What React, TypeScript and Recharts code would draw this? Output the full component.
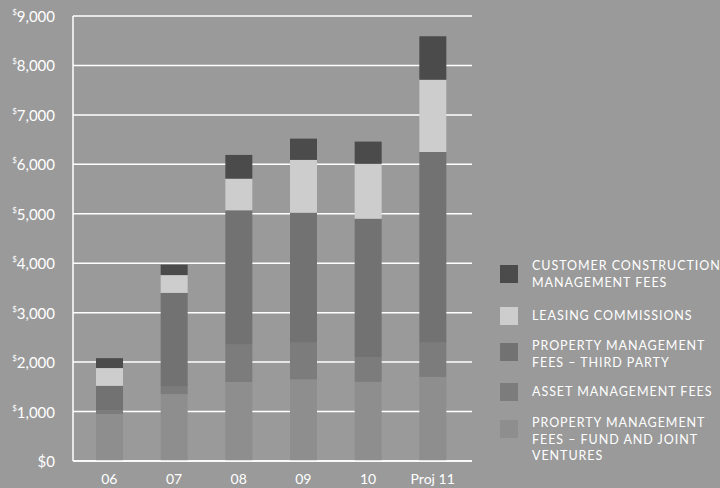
import React from "react";
import { BarChart, Bar, XAxis, YAxis, CartesianGrid } from "recharts";

const years = ["06", "07", "08", "09", "10", "Proj 11"];
// values in $ thousands, stacked bottom to top
const fundJv = [950, 1350, 1600, 1650, 1600, 1700];
const assetMgmt = [80, 150, 750, 740, 500, 690];
const thirdParty = [490, 1900, 2720, 2630, 2800, 3860];
const leasing = [360, 360, 640, 1070, 1110, 1460];
const construction = [200, 210, 480, 430, 450, 880];
const yTicks = [0, 1000, 2000, 3000, 4000, 5000, 6000, 7000, 8000, 9000];

const SERIES = [
  { key: "fundJv", label: ["PROPERTY MANAGEMENT", "FEES – FUND AND JOINT", "VENTURES"], color: "#8e8e8e" },
  { key: "assetMgmt", label: ["ASSET MANAGEMENT FEES"], color: "#7c7c7c" },
  { key: "thirdParty", label: ["PROPERTY MANAGEMENT", "FEES – THIRD PARTY"], color: "#727272" },
  { key: "leasing", label: ["LEASING COMMISSIONS"], color: "#cdcdcd" },
  { key: "construction", label: ["CUSTOMER CONSTRUCTION", "MANAGEMENT FEES"], color: "#4b4b4b" },
];

const data = years.map((year, i) => ({
  year,
  fundJv: fundJv[i],
  assetMgmt: assetMgmt[i],
  thirdParty: thirdParty[i],
  leasing: leasing[i],
  construction: construction[i],
}));

const FONT = "Lato, 'Noto Sans', sans-serif";
const BG = "#9a9a9a";

const YTick = ({ x, y, payload }: any) => (
  <text x={x} y={y} textAnchor="end" fill="#fff" fontFamily={FONT} fontSize={15} dominantBaseline="central">
    {payload.value > 0 && (
      <tspan fontSize={8} dy={-4}>$</tspan>
    )}
    <tspan dy={payload.value > 0 ? 4 : 0}>
      {payload.value > 0 ? payload.value.toLocaleString("en-US") : "$0"}
    </tspan>
  </text>
);

const LegendBox = () => {
  const rows = [...SERIES].reverse();
  const tops = [265, 307, 343, 383, 420];
  return (
    <div style={{ position: "absolute", left: 500, top: 0, width: 220, height: 488 }}>
      {rows.map((s, i) => (
        <div key={s.key} style={{ position: "absolute", top: tops[i], left: 0, display: "flex" }}>
          <div style={{ width: 18, height: 18, background: s.color, flexShrink: 0 }} />
          <div
            style={{
              marginLeft: 14,
              marginTop: s.label.length > 1 ? (i === 0 ? -7 : -5) : 1,
              color: "#fff",
              fontFamily: FONT,
              fontSize: 12.5,
              letterSpacing: 0.95,
              lineHeight: "16.5px",
              whiteSpace: "nowrap",
            }}
          >
            {s.label.map((l) => (
              <div key={l}>{l}</div>
            ))}
          </div>
        </div>
      ))}
    </div>
  );
};

export default function App() {
  return (
    <div style={{ position: "absolute", left: 0, top: 0, width: 720, height: 488, background: BG, overflow: "hidden" }}>
      <BarChart
        width={720}
        height={488}
        data={data}
        margin={{ top: 16, right: 248, left: 0, bottom: 0 }}
        barSize={27}
      >
        <CartesianGrid vertical={false} stroke="#fff" strokeWidth={1.5} />
        <XAxis
          dataKey="year"
          height={27}
          padding={{ left: 4, right: 7 }}
          axisLine={{ stroke: "#fff", strokeWidth: 1.5 }}
          tickLine={false}
          tickMargin={7}
          tick={{ fill: "#fff", fontFamily: FONT, fontSize: 14 }}
        />
        <YAxis
          width={73}
          domain={[0, 9000]}
          ticks={yTicks}
          axisLine={{ stroke: "#fff", strokeWidth: 1.5 }}
          tickLine={false}
          tickSize={0}
          tickMargin={18}
          tick={<YTick />}
        />
        {SERIES.map((s) => (
          <Bar key={s.key} dataKey={s.key} stackId="a" fill={s.color} isAnimationActive={false} />
        ))}
      </BarChart>
      <LegendBox />
    </div>
  );
}
